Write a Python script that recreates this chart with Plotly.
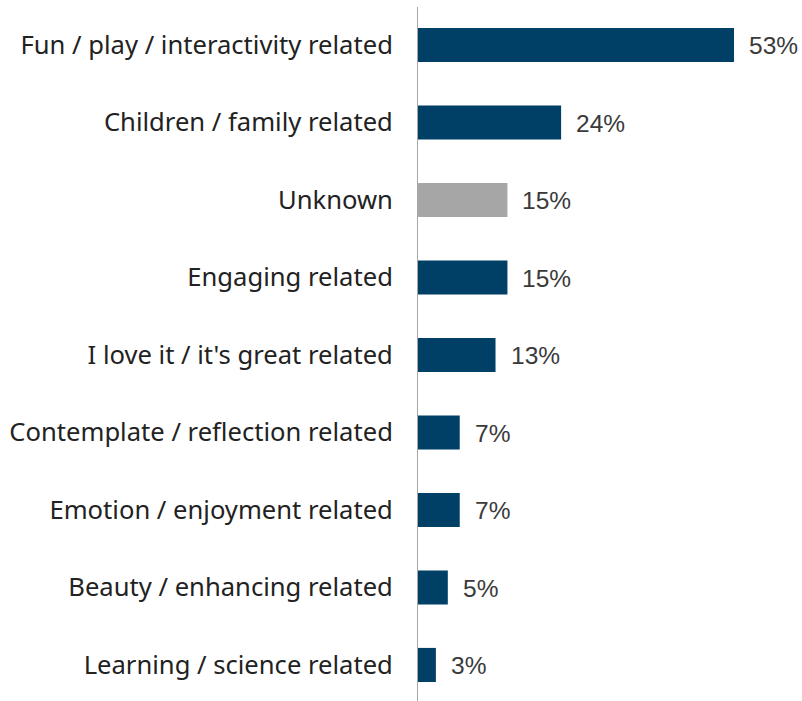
import plotly.graph_objects as go

categories = [
    "Fun / play / interactivity related",
    "Children / family related",
    "Unknown",
    "Engaging related",
    "I love it / it's great related",
    "Contemplate / reflection related",
    "Emotion / enjoyment related",
    "Beauty / enhancing related",
    "Learning / science related",
]
values = [53, 24, 15, 15, 13, 7, 7, 5, 3]
labels = ["53%", "24%", "15%", "15%", "13%", "7%", "7%", "5%", "3%"]
bar_colors = ["#003F66", "#003F66", "#A6A6A6", "#003F66", "#003F66",
              "#003F66", "#003F66", "#003F66", "#003F66"]

fig = go.Figure()
fig.add_trace(go.Bar(
    x=values, y=categories, orientation="h",
    marker=dict(color=bar_colors, line=dict(width=0)),
    width=0.44, hoverinfo="skip",
))

for c, v, t in zip(categories, values, labels):
    fig.add_annotation(x=v, y=c, text=t, showarrow=False, xanchor="left",
                       xshift=13, yshift=-1,
                       font=dict(family="Liberation Sans, Arial", size=24.5, color="#3A3A3A"))

fig.update_layout(
    width=802, height=701,
    margin=dict(l=418, r=0, t=7, b=0, autoexpand=False),
    paper_bgcolor="white", plot_bgcolor="white",
    showlegend=False,
    xaxis=dict(range=[0, 64.4], visible=False, showgrid=False, zeroline=False),
    yaxis=dict(
        categoryorder="array", categoryarray=categories,
        range=[8.465, -0.490],
        automargin=False,
        showline=True, linecolor="#A6A6A6", linewidth=1,
        showgrid=False, zeroline=False, ticks="",
        ticklabelstandoff=19,
        tickfont=dict(family="Noto Sans", size=25.6, color="#222222"),
    ),
)

fig.write_html(
    "out.html",
    config={"displayModeBar": False},
    post_script="document.body.style.margin='0px';document.body.style.overflow='hidden';",
)
